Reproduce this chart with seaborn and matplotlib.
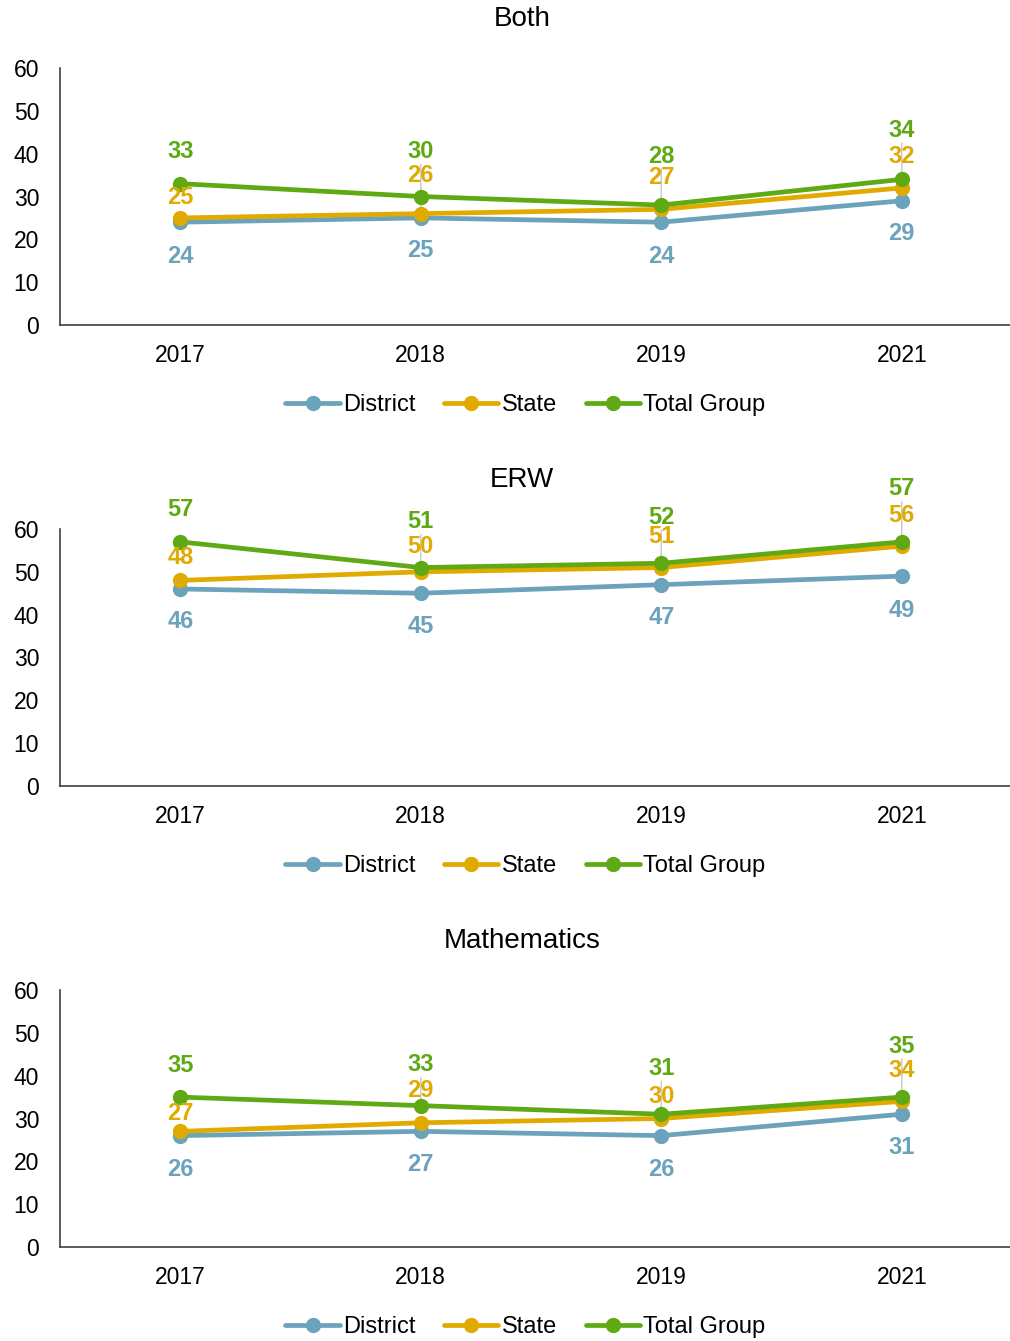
import pandas as pd
import matplotlib
matplotlib.use("Agg")
import matplotlib.pyplot as plt
import seaborn as sns

# --- data ---
years = ["2017", "2018", "2019", "2021"]
series = ["District", "State", "Total Group"]
panels = ["Both", "ERW", "Mathematics"]

both_district = [24, 25, 24, 29]
both_state = [25, 26, 27, 32]
both_total = [33, 30, 28, 34]

erw_district = [46, 45, 47, 49]
erw_state = [48, 50, 51, 56]
erw_total = [57, 51, 52, 57]

math_district = [26, 27, 26, 31]
math_state = [27, 29, 30, 34]
math_total = [35, 33, 31, 35]

values = {
    "Both": [both_district, both_state, both_total],
    "ERW": [erw_district, erw_state, erw_total],
    "Mathematics": [math_district, math_state, math_total],
}

# label offsets in pixels (negative = below the point)
label_offsets = {
    "Both": [[-34, -33, -34, -33], [20, 38, 32, 31], [32, 45, 49, 49]],
    "ERW": [[-33, -33, -33, -34], [23, 25, 31, 31], [32, 46, 46, 53]],
    "Mathematics": [[-34, -33, -34, -33], [18, 32, 22, 31], [32, 41, 46, 51]],
}

colors = {"District": "#6aa3bb", "State": "#e0aa00", "Total Group": "#5ea914"}

sns.set_style("white")
plt.rcParams["font.family"] = ["Liberation Sans", "DejaVu Sans"]
plt.rcParams["text.color"] = "black"
plt.rcParams["xtick.color"] = "black"
plt.rcParams["ytick.color"] = "black"

fig = plt.figure(figsize=(10.1, 13.41), dpi=100)
H = 1341
W = 1010
# (top px of y=60, bottom px of y=0)
boxes = [(68, 325), (529, 786), (990, 1247)]
px2pt = 72 / 100

for name, (top, bot) in zip(panels, boxes):
    ax = fig.add_axes([60 / W, 1 - bot / H, 950 / W, (bot - top) / H])
    rows = []
    for s, vals in zip(series, values[name]):
        for i, v in enumerate(vals):
            rows.append({"x": i, "value": v, "series": s})
    df = pd.DataFrame(rows)
    sns.lineplot(data=df, x="x", y="value", hue="series", hue_order=series,
                 palette=colors, marker="o", markersize=11, markeredgewidth=0,
                 linewidth=3.4, ax=ax)

    for s, vals, offs in zip(series, values[name], label_offsets[name]):
        for i, (v, off) in enumerate(zip(vals, offs)):
            ax.annotate(str(v), (i, v), xytext=(0, off * px2pt),
                        textcoords="offset points", ha="center", va="center",
                        fontsize=17, fontweight="bold", color=colors[s])
            if off > 35:
                ax.annotate("", (i, v), xytext=(0, (off - 10) * px2pt),
                            textcoords="offset points",
                            arrowprops=dict(arrowstyle="-", color="#c8c8c8", lw=1),
                            zorder=1)

    ax.set_xlim(-0.5, 3.45)
    ax.set_ylim(0, 60)
    ax.set_xticks(range(len(years)))
    ax.set_xticklabels(years)
    ax.set_yticks(range(0, 61, 10))
    ax.tick_params(axis="x", length=0, pad=14, labelsize=16.5)
    ax.tick_params(axis="y", length=0, pad=15, labelsize=16.5)
    ax.set_xlabel("")
    ax.set_ylabel("")
    for sp in ["top", "right"]:
        ax.spines[sp].set_visible(False)
    for sp in ["left", "bottom"]:
        ax.spines[sp].set_color("#404040")
        ax.spines[sp].set_linewidth(1.2)

    ax.text(0.486, 1 + 49 / (bot - top), name, transform=ax.transAxes,
            ha="center", va="center", fontsize=20)

    handles, labels = ax.get_legend_handles_labels()
    ax.legend(handles, labels, loc="center", bbox_to_anchor=(0.49, -80 / (bot - top)),
              ncol=3, frameon=False, fontsize=17, handlelength=2.3,
              handletextpad=0.15, columnspacing=1.2)

fig.savefig("out.png", dpi=100)
